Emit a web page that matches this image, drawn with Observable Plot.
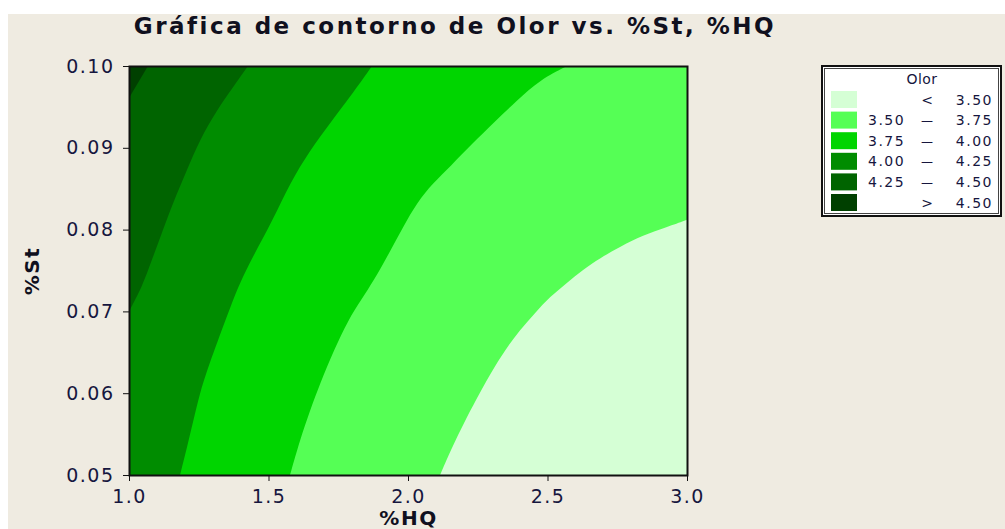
<!DOCTYPE html>
<html>
<head>
<meta charset="utf-8">
<script src="https://cdn.jsdelivr.net/npm/d3@7"></script>
<script src="https://cdn.jsdelivr.net/npm/@observablehq/plot@0.6"></script>
<style>
html, body { margin: 0; padding: 0; background: #ffffff; }
body { width: 1005px; height: 529px; position: relative; overflow: hidden; font-family: "DejaVu Sans", sans-serif; }
#bg { position: absolute; left: 8px; top: 14px; right: 0; bottom: 0; background: #EFEBE1; }
#title { position: absolute; left: 0; width: 910px; top: 15px; line-height: 23px; text-align: center; font-weight: bold; font-size: 23px; letter-spacing: 2.5px; color: #10101e; white-space: nowrap; }
#chart { position: absolute; left: 0; top: 0; }
#legend { position: absolute; left: 821px; top: 65px; }
</style>
</head>
<body>
<div id="bg"></div>
<div id="title"></div>
<div id="chart"></div>
<div id="legend"></div>
<script>
// ---- data ----
const titleText = "Gráfica de contorno de Olor vs. %St, %HQ";
const xLabel = ["%HQ"];
const yLabel = ["%St"];
const legendTitle = "Olor";
const xDomain = [1.0, 3.0];
const yDomain = [0.05, 0.10];
const xTicks = [1.0, 1.5, 2.0, 2.5, 3.0];
const yTicks = [0.05, 0.06, 0.07, 0.08, 0.09, 0.10];

const levels = ["< 3.50", "3.50 – 3.75", "3.75 – 4.00", "4.00 – 4.25", "4.25 – 4.50", "> 4.50"];
const legendLow  = ["", "3.50", "3.75", "4.00", "4.25", ""];
const legendMid  = ["<", "—", "—", "—", "—", ">"];
const legendHigh = ["3.50", "3.75", "4.00", "4.25", "4.50", "4.50"];
const colors = ["#D5FFD5", "#55FF55", "#00D500", "#008C00", "#006400", "#004000"];

// contour lines [%HQ, %St], sorted by %St
const contour350 = [[2.115,0.0500],[2.158,0.0534],[2.201,0.0564],[2.244,0.0592],[2.297,0.0625],[2.348,0.0653],[2.401,0.0677],[2.455,0.0698],[2.509,0.0718],[2.570,0.0735],[2.627,0.0751],[2.688,0.0765],[2.760,0.0779],[2.842,0.0793],[2.928,0.0803],[3.000,0.0812]];
const contour375 = [[1.577,0.0500],[1.613,0.0543],[1.649,0.0579],[1.685,0.0612],[1.735,0.0653],[1.785,0.0689],[1.832,0.0714],[1.878,0.0738],[1.932,0.0771],[1.982,0.0803],[2.032,0.0833],[2.090,0.0857],[2.151,0.0877],[2.233,0.0906],[2.305,0.0930],[2.391,0.0958],[2.473,0.0983],[2.570,0.1000]];
const contour400 = [[1.183,0.0500],[1.208,0.0534],[1.229,0.0564],[1.254,0.0600],[1.280,0.0628],[1.315,0.0661],[1.373,0.0714],[1.398,0.0735],[1.444,0.0767],[1.516,0.0812],[1.577,0.0857],[1.649,0.0897],[1.720,0.0930],[1.792,0.0962],[1.871,0.1000]];
const contour425 = [[1.000,0.0700],[1.047,0.0730],[1.082,0.0763],[1.122,0.0800],[1.158,0.0833],[1.208,0.0873],[1.254,0.0910],[1.315,0.0946],[1.373,0.0974],[1.4265,0.1000]];
const contour450 = [[1.000,0.0961],[1.068,0.1000]];

const toRows = (level, pts) => pts.map(([hq, st]) => ({level, hq, st}));
// region right of the 3.50 contour is "< 3.50"
const lowRows = toRows(levels[0], contour350);
// regions left of each higher contour get the level just above it
const highRows = [
  [levels[2], contour375],
  [levels[3], contour400],
  [levels[4], contour425],
  [levels[5], contour450]
].flatMap(([level, pts]) => toRows(level, pts));

document.getElementById("title").textContent = titleText;

const ink = "#16163e";
const chart = Plot.plot({
  width: 1005,
  height: 529,
  marginLeft: 129,
  marginRight: 318,
  marginTop: 66,
  marginBottom: 54,
  style: {background: "transparent", fontFamily: "DejaVu Sans, sans-serif", fontSize: "19px", letterSpacing: "1.5px", color: ink},
  x: {domain: xDomain},
  y: {domain: yDomain},
  color: {type: "ordinal", domain: levels, range: colors},
  marks: [
    Plot.frame({fill: colors[1]}),
    Plot.areaX(lowRows, {x1: "hq", x2: () => xDomain[1], y: "st", fill: "level", curve: "basis", clip: true}),
    Plot.areaX(highRows, {x1: () => xDomain[0], x2: "hq", y: "st", z: "level", fill: "level", curve: "basis", clip: true}),
    Plot.frame({stroke: "#111", strokeWidth: 2}),
    Plot.axisX({ticks: xTicks, tickFormat: d3.format(".1f"), tickSize: 6, tickPadding: 8, label: null, stroke: "#111", fill: ink}),
    Plot.axisY({ticks: yTicks, tickFormat: d3.format(".2f"), tickSize: 6, tickPadding: 9, label: null, stroke: "#111", fill: ink}),
    Plot.text(xLabel, {text: d => d, frameAnchor: "bottom", lineAnchor: "middle", dy: 43, fontSize: 20, fontWeight: "bold", fill: "#10101e"}),
    Plot.text(yLabel, {text: d => d, frameAnchor: "left", textAnchor: "middle", lineAnchor: "middle", dx: -97, rotate: -90, fontSize: 20, fontWeight: "bold", fill: "#10101e"})
  ]
});
document.getElementById("chart").appendChild(chart);

// legend
const lw = 181, lh = 152;
const svg = d3.select("#legend").append("svg").attr("width", lw).attr("height", lh)
  .style("font-family", "DejaVu Sans, sans-serif").style("font-size", "14px").style("letter-spacing", "1.5px");
svg.append("rect").attr("x", 1).attr("y", 1).attr("width", lw - 2).attr("height", lh - 2)
  .attr("fill", "#fff").attr("stroke", "#111").attr("stroke-width", 2);
svg.append("rect").attr("x", 3.5).attr("y", 3.5).attr("width", lw - 7).attr("height", lh - 7)
  .attr("fill", "none").attr("stroke", "#444").attr("stroke-width", 1);
svg.append("text").attr("x", 101).attr("y", 19).attr("text-anchor", "middle").attr("fill", ink).style("letter-spacing", "0.5px").text(legendTitle);
levels.forEach((lev, i) => {
  const y0 = 26 + i * 20.6;
  svg.append("rect").attr("x", 10).attr("y", y0).attr("width", 26).attr("height", 17).attr("fill", colors[i]);
  svg.append("text").attr("x", 47).attr("y", y0 + 13.5).attr("fill", ink).text(legendLow[i]);
  svg.append("text").attr("x", 106).attr("y", y0 + 13.5).attr("text-anchor", "middle").attr("fill", ink)
    .style("font-size", i === 0 || i === 5 ? "14px" : "12px").style("letter-spacing", "0").text(legendMid[i]);
  svg.append("text").attr("x", 172).attr("y", y0 + 13.5).attr("text-anchor", "end").attr("fill", ink).text(legendHigh[i]);
});
</script>
</body>
</html>
